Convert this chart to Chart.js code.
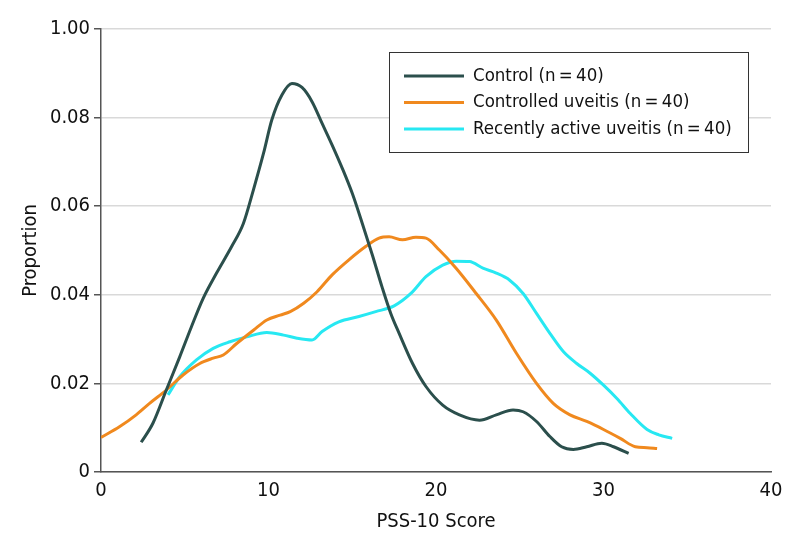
<!DOCTYPE html>
<html>
<head>
<meta charset="utf-8">
<script src="https://cdn.jsdelivr.net/npm/chart.js@4"></script>
<style>
  html, body { margin: 0; padding: 0; background: #fff; }
  #wrap { width: 794px; height: 556px; }
</style>
</head>
<body>
<div id="wrap"><canvas id="chart" width="794" height="556"></canvas></div>
<script>
const fontName = "'DejaVu Sans Condensed', 'Liberation Sans Narrow', 'Roboto', sans-serif";

const seriesLabels = ["Control (n\u2009=\u200940)", "Controlled uveitis (n\u2009=\u200940)", "Recently active uveitis (n\u2009=\u200940)"];
const seriesColours = ["#2b4f4c", "#f0891e", "#27e8f2"];

const yTickLabels = ["0", "0.02", "0.04", "0.06", "0.08", "1.00"];
const xTickLabels = ["0", "10", "20", "30", "40"];

// control
const controlX = [2.4, 3.1, 3.9, 4.7, 5.4, 6.1, 6.9, 7.8, 8.5, 9.1, 9.7, 10.2, 10.8, 11.4, 12.0, 12.6, 13.2, 13.8, 14.4, 15.0, 15.6, 16.2, 16.8, 17.3, 17.8, 18.6, 19.4, 20.4, 21.4, 22.6, 23.6, 24.6, 25.2, 26.0, 26.8, 27.5, 28.2, 29.0, 29.9, 30.6, 31.5];
const controlY = [0.0067, 0.011, 0.0185, 0.026, 0.0328, 0.0392, 0.0449, 0.0509, 0.0561, 0.0637, 0.0719, 0.0795, 0.0851, 0.0877, 0.0868, 0.0836, 0.0787, 0.0738, 0.0686, 0.0629, 0.0561, 0.049, 0.0415, 0.0358, 0.0313, 0.0245, 0.0193, 0.0151, 0.0129, 0.0117, 0.0129, 0.014, 0.0136, 0.0114, 0.008, 0.0057, 0.0051, 0.0057, 0.0065, 0.0057, 0.0042];

// controlled uveitis
const controlledX = [0, 1.1, 2.1, 2.9, 3.9, 4.9, 5.9, 6.7, 7.3, 8.1, 9.1, 9.9, 10.7, 11.3, 12.1, 12.9, 13.8, 14.8, 15.8, 16.6, 17.2, 18.0, 18.8, 19.4, 20.2, 21.2, 22.4, 23.6, 24.8, 26.0, 27.0, 28.0, 29.0, 30.0, 31.0, 31.9, 32.6, 33.2];
const controlledY = [0.0078, 0.0102, 0.0129, 0.0155, 0.0185, 0.0219, 0.0245, 0.0257, 0.0264, 0.029, 0.032, 0.0343, 0.0354, 0.0362, 0.0381, 0.0407, 0.0445, 0.0479, 0.0509, 0.0528, 0.0531, 0.0524, 0.053, 0.0528, 0.0501, 0.046, 0.0403, 0.0343, 0.0268, 0.02, 0.0155, 0.0129, 0.0114, 0.0096, 0.0076, 0.0057, 0.0055, 0.0053];

// recently active uveitis
const activeX = [4.0, 4.7, 5.7, 6.7, 7.7, 8.7, 9.9, 10.9, 11.7, 12.6, 13.2, 14.2, 15.4, 16.4, 17.5, 18.5, 19.4, 20.4, 21.2, 22.0, 22.8, 23.6, 24.4, 25.2, 26.0, 26.8, 27.6, 28.4, 29.2, 30.0, 30.8, 31.6, 32.6, 33.3, 34.1];
const activeY = [0.0174, 0.0215, 0.0253, 0.0279, 0.0294, 0.0305, 0.0315, 0.0309, 0.0302, 0.0298, 0.0317, 0.0339, 0.0351, 0.0362, 0.0375, 0.0403, 0.0441, 0.0467, 0.0476, 0.0475, 0.046, 0.0449, 0.0433, 0.0403, 0.0358, 0.0313, 0.0272, 0.0245, 0.0223, 0.0196, 0.0166, 0.0132, 0.0096, 0.0084, 0.0076];

function toPoints(xs, ys) {
  return xs.map((x, i) => ({ x: x, y: ys[i] }));
}

// boxed legend in the upper right of the plot
const boxLegend = {
  id: 'boxLegend',
  afterDraw(chart) {
    const ctx = chart.ctx;
    const area = chart.chartArea;
    const left = area.left + 288, top = area.top + 23, w = 359, h = 100;
    ctx.save();
    ctx.fillStyle = '#fff';
    ctx.fillRect(left, top, w, h);
    ctx.strokeStyle = '#333';
    ctx.lineWidth = 1;
    ctx.strokeRect(left + 0.5, top + 0.5, w, h);
    ctx.font = "18.5px " + fontName;
    ctx.textBaseline = 'middle';
    chart.data.datasets.forEach((ds, i) => {
      const y = top + 24 + i * 26.5;
      ctx.strokeStyle = ds.borderColor;
      ctx.lineWidth = 3;
      ctx.beginPath();
      ctx.moveTo(left + 15, y);
      ctx.lineTo(left + 75, y);
      ctx.stroke();
      ctx.fillStyle = '#111';
      ctx.fillText(ds.label, left + 84, y);
    });
    ctx.restore();
  }
};

new Chart(document.getElementById('chart'), {
  type: 'line',
  data: {
    datasets: [
      { label: seriesLabels[0], data: toPoints(controlX, controlY), borderColor: seriesColours[0] },
      { label: seriesLabels[1], data: toPoints(controlledX, controlledY), borderColor: seriesColours[1] },
      { label: seriesLabels[2], data: toPoints(activeX, activeY), borderColor: seriesColours[2] }
    ]
  },
  options: {
    responsive: false,
    animation: false,
    layout: { padding: { top: 29, right: 23, left: 0, bottom: 0 } },
    elements: {
      point: { radius: 0 },
      line: { borderWidth: 3, tension: 0.4, cubicInterpolationMode: 'monotone' }
    },
    plugins: {
      legend: { display: false },
      tooltip: { enabled: false }
    },
    scales: {
      x: {
        type: 'linear',
        min: 0,
        max: 40,
        ticks: {
          stepSize: 10,
          color: '#111',
          font: { family: fontName, size: 20 },
          padding: 0,
          callback: (v) => xTickLabels[v / 10]
        },
        grid: { display: false, drawTicks: true, tickLength: 7, tickColor: '#555' },
        border: { display: true, color: '#555', width: 1.5 },
        title: {
          display: true,
          text: 'PSS-10 Score',
          color: '#111',
          font: { family: fontName, size: 20 },
          padding: { top: 0, bottom: 22 }
        },
        afterFit(scale) { scale.height = 84; }
      },
      y: {
        min: 0,
        max: 0.1,
        ticks: {
          stepSize: 0.02,
          color: '#111',
          font: { family: fontName, size: 20 },
          padding: 4,
          callback: (v) => yTickLabels[Math.round(v / 0.02)]
        },
        grid: { color: '#d9d9d9', lineWidth: 1.5, tickColor: '#555', tickLength: 7 },
        border: { display: true, color: '#555', width: 1.5 },
        title: {
          display: true,
          text: 'Proportion',
          color: '#111',
          font: { family: fontName, size: 20 },
          padding: { top: 19, bottom: 0 }
        },
        afterFit(scale) { scale.width = 101; }
      }
    }
  },
  plugins: [boxLegend]
});
</script>
</body>
</html>
